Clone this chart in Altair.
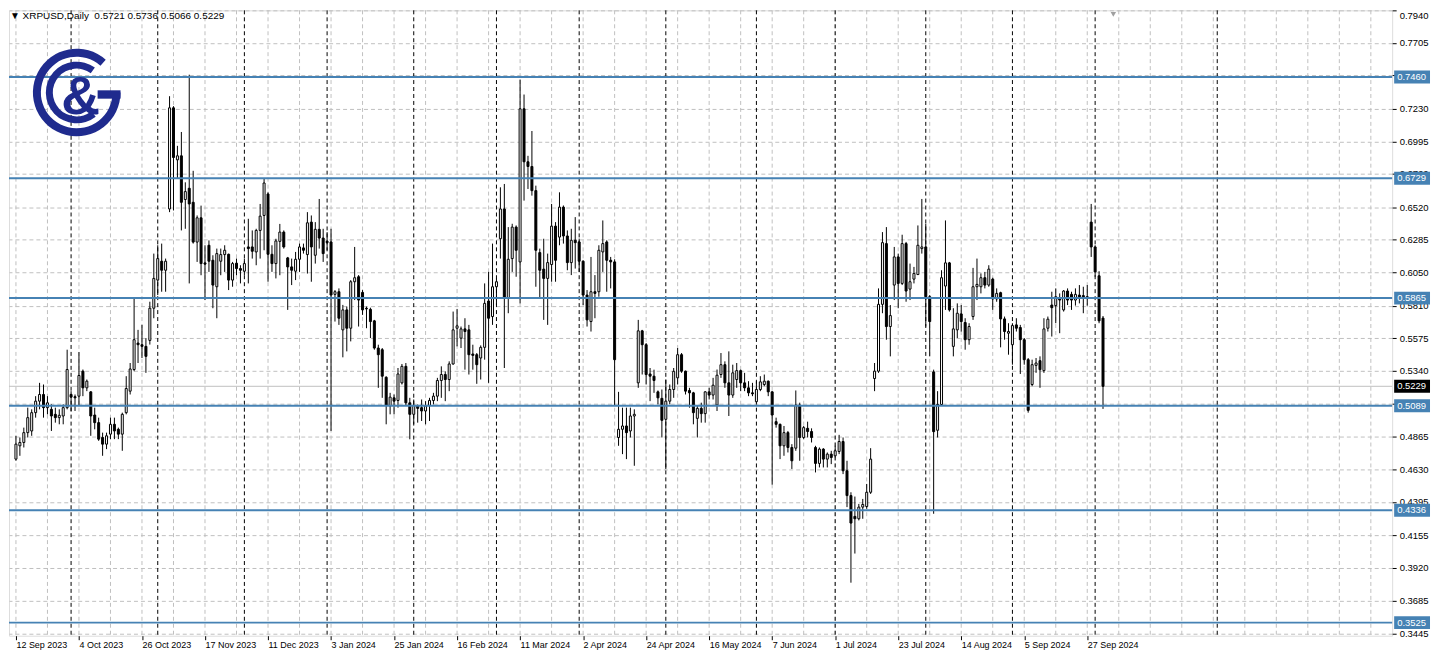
import altair as alt
import pandas as pd

# ---------------- data ----------------
opens = [
    0.4704, 0.4800, 0.4824, 0.4895, 0.4907, 0.5039, 0.5122, 0.5170, 0.5075, 0.5063,
    0.5027, 0.5003, 0.5015, 0.5075, 0.5170, 0.5154, 0.5158, 0.5338, 0.5218, 0.5189,
    0.5022, 0.4967, 0.4860, 0.4812, 0.4884, 0.4955, 0.4919, 0.4884, 0.5039, 0.5194,
    0.5350, 0.5541, 0.5529, 0.5517, 0.5560, 0.5792, 0.5995, 0.6131, 0.6066, 0.6508,
    0.7237, 0.6862, 0.6891, 0.6576, 0.6657, 0.6556, 0.6269, 0.6444, 0.6119, 0.6246,
    0.6138, 0.5947, 0.6131, 0.6179, 0.6181, 0.5995, 0.6117, 0.6078, 0.6059, 0.6234,
    0.6234, 0.6198, 0.6353, 0.6461, 0.6616, 0.6181, 0.6114, 0.6274, 0.6341, 0.6155,
    0.6090, 0.6059, 0.6145, 0.6227, 0.6179, 0.6413, 0.6174, 0.6361, 0.6298, 0.6275,
    0.6270, 0.5892, 0.5911, 0.5636, 0.5780, 0.5648, 0.5983, 0.6019, 0.5906, 0.5792,
    0.5784, 0.5701, 0.5505, 0.5493, 0.5294, 0.5087, 0.5146, 0.5127, 0.5254, 0.5373,
    0.5110, 0.5027, 0.5087, 0.5075, 0.5051, 0.5091, 0.5127, 0.5158, 0.5271, 0.5314,
    0.5278, 0.5390, 0.5648, 0.5576, 0.5643, 0.5636, 0.5462, 0.5457, 0.5433, 0.5510,
    0.5844, 0.5732, 0.5947, 0.6293, 0.6508, 0.5868, 0.6150, 0.6377, 0.6126, 0.7230,
    0.6848, 0.6814, 0.6640, 0.6193, 0.6074, 0.6007, 0.6107, 0.6384, 0.6305, 0.6521,
    0.6313, 0.6121, 0.6282, 0.6270, 0.6131, 0.5887, 0.5696, 0.5911, 0.5911, 0.6198,
    0.6270, 0.6138, 0.6126, 0.4860, 0.4919, 0.4943, 0.4907, 0.5015, 0.5254, 0.5629,
    0.5529, 0.5318, 0.5302, 0.5189, 0.5142, 0.4991, 0.5122, 0.5206, 0.5290, 0.5457,
    0.5338, 0.5199, 0.5182, 0.4998, 0.5070, 0.5032, 0.5189, 0.5166, 0.5094, 0.5314,
    0.5385, 0.5254, 0.5166, 0.5278, 0.5342, 0.5254, 0.5218, 0.5182, 0.5118, 0.5206,
    0.5242, 0.5266, 0.5189, 0.4974, 0.4955, 0.4800, 0.4895, 0.4788, 0.4783, 0.5094,
    0.4860, 0.4926, 0.4903, 0.4788, 0.4673, 0.4776, 0.4704, 0.4740, 0.4728, 0.4759,
    0.4831, 0.4620, 0.4441, 0.4291, 0.4274, 0.4358, 0.4362, 0.4465, 0.5285, 0.5338,
    0.5820, 0.6258, 0.5660, 0.5959, 0.6162, 0.5971, 0.6258, 0.5930, 0.6002, 0.6035,
    0.6222, 0.6234, 0.5875, 0.5333, 0.4912, 0.5098, 0.5952, 0.6119, 0.5517, 0.5636,
    0.5751, 0.5689, 0.5565, 0.5732, 0.5947, 0.5947, 0.6012, 0.5959, 0.6002, 0.5859,
    0.5904, 0.5715, 0.5612, 0.5529, 0.5672, 0.5653, 0.5565, 0.5421, 0.5242, 0.5380,
    0.5414, 0.5342, 0.5648, 0.5815, 0.5811, 0.5868, 0.5780, 0.5916, 0.5892, 0.5851,
    0.5887, 0.5883, 0.5875, 0.6413, 0.6234, 0.6026, 0.5721,
]
highs = [
    0.4872, 0.4860, 0.4931, 0.5075, 0.5063, 0.5158, 0.5254, 0.5242, 0.5158, 0.5099,
    0.5075, 0.5063, 0.5099, 0.5493, 0.5194, 0.5170, 0.5476, 0.5350, 0.5278, 0.5194,
    0.5075, 0.5003, 0.4895, 0.4895, 0.5003, 0.5003, 0.4931, 0.5039, 0.5302, 0.5397,
    0.5863, 0.5636, 0.5672, 0.5577, 0.5839, 0.6186, 0.6246, 0.6258, 0.6150, 0.7321,
    0.7249, 0.6963, 0.7063, 0.6700, 0.7476, 0.6783, 0.6461, 0.6532, 0.6246, 0.6281,
    0.6174, 0.6222, 0.6222, 0.6246, 0.6186, 0.6126, 0.6150, 0.6102, 0.6150, 0.6437,
    0.6353, 0.6365, 0.6544, 0.6728, 0.6628, 0.6246, 0.6293, 0.6400, 0.6353, 0.6162,
    0.6150, 0.6198, 0.6258, 0.6258, 0.6485, 0.6461, 0.6413, 0.6580, 0.6365, 0.6341,
    0.6365, 0.5923, 0.5935, 0.5816, 0.5804, 0.5995, 0.6234, 0.6031, 0.5923, 0.5804,
    0.5796, 0.5708, 0.5529, 0.5505, 0.5302, 0.5182, 0.5170, 0.5361, 0.5390, 0.5397,
    0.5146, 0.5134, 0.5098, 0.5134, 0.5122, 0.5146, 0.5182, 0.5290, 0.5373, 0.5337,
    0.5409, 0.5768, 0.5787, 0.5660, 0.5720, 0.5672, 0.5529, 0.5469, 0.5524, 0.5971,
    0.6054, 0.6258, 0.6007, 0.6664, 0.6688, 0.6377, 0.6401, 0.6389, 0.7441, 0.7333,
    0.6891, 0.7070, 0.6676, 0.6222, 0.6293, 0.6186, 0.6544, 0.6413, 0.6628, 0.6533,
    0.6353, 0.6365, 0.6449, 0.6294, 0.6138, 0.5923, 0.6162, 0.6031, 0.6246, 0.6425,
    0.6282, 0.6162, 0.6145, 0.5189, 0.5075, 0.5075, 0.5075, 0.5063, 0.5708, 0.5636,
    0.5541, 0.5361, 0.5349, 0.5199, 0.5206, 0.5278, 0.5242, 0.5361, 0.5505, 0.5469,
    0.5342, 0.5218, 0.5189, 0.5087, 0.5111, 0.5194, 0.5218, 0.5290, 0.5350, 0.5469,
    0.5409, 0.5481, 0.5385, 0.5397, 0.5350, 0.5326, 0.5266, 0.5254, 0.5266, 0.5302,
    0.5314, 0.5271, 0.5194, 0.5003, 0.4960, 0.4943, 0.4907, 0.4812, 0.5199, 0.5111,
    0.4943, 0.4974, 0.4926, 0.4800, 0.4788, 0.4783, 0.4752, 0.4764, 0.4800, 0.4879,
    0.4860, 0.4692, 0.4465, 0.4434, 0.4381, 0.4417, 0.4525, 0.4783, 0.5397, 0.5935,
    0.6341, 0.6377, 0.5815, 0.6234, 0.6186, 0.6322, 0.6270, 0.6114, 0.6090, 0.6389,
    0.6580, 0.6401, 0.5887, 0.5349, 0.5194, 0.6066, 0.6425, 0.6126, 0.5792, 0.5827,
    0.5815, 0.5720, 0.5684, 0.6083, 0.6150, 0.6043, 0.6054, 0.6102, 0.6012, 0.5935,
    0.5911, 0.5732, 0.5684, 0.5684, 0.5720, 0.5672, 0.5577, 0.5433, 0.5421, 0.5433,
    0.5445, 0.5720, 0.5732, 0.5911, 0.5935, 0.5899, 0.5923, 0.5935, 0.5911, 0.5935,
    0.5959, 0.5947, 0.5959, 0.6544, 0.6246, 0.6059, 0.5736,
]
lows = [
    0.4692, 0.4728, 0.4788, 0.4860, 0.4872, 0.5003, 0.5063, 0.5003, 0.5027, 0.4907,
    0.4967, 0.4955, 0.4955, 0.5063, 0.5051, 0.5051, 0.5087, 0.5158, 0.5194, 0.4872,
    0.4919, 0.4836, 0.4728, 0.4776, 0.4848, 0.4848, 0.4848, 0.4764, 0.5027, 0.5170,
    0.5338, 0.5397, 0.5433, 0.5326, 0.5530, 0.5720, 0.5887, 0.5911, 0.5911, 0.6485,
    0.6497, 0.6724, 0.6353, 0.6365, 0.5971, 0.6258, 0.6126, 0.6030, 0.5851, 0.6054,
    0.5792, 0.5720, 0.6030, 0.6054, 0.5923, 0.5947, 0.6030, 0.5971, 0.6030, 0.5971,
    0.6150, 0.6102, 0.6150, 0.6210, 0.5983, 0.6054, 0.6007, 0.6030, 0.6222, 0.5780,
    0.5959, 0.5995, 0.6054, 0.6186, 0.6042, 0.5983, 0.6114, 0.6222, 0.6126, 0.6210,
    0.4907, 0.5696, 0.5672, 0.5438, 0.5481, 0.5553, 0.5851, 0.5660, 0.5744, 0.5648,
    0.5577, 0.5493, 0.5218, 0.5146, 0.4955, 0.5027, 0.5027, 0.5075, 0.5242, 0.5087,
    0.4847, 0.4955, 0.4967, 0.4979, 0.4955, 0.4979, 0.5098, 0.5122, 0.5146, 0.5122,
    0.5194, 0.5385, 0.5517, 0.5505, 0.5349, 0.5314, 0.5349, 0.5247, 0.5278, 0.5421,
    0.5254, 0.5672, 0.5815, 0.6150, 0.5361, 0.5756, 0.6054, 0.6019, 0.5827, 0.6568,
    0.6652, 0.6604, 0.5947, 0.5863, 0.5708, 0.5672, 0.5983, 0.5983, 0.6246, 0.6258,
    0.6066, 0.6031, 0.6078, 0.6054, 0.5815, 0.5660, 0.5624, 0.5720, 0.5875, 0.6054,
    0.5911, 0.5935, 0.5087, 0.4800, 0.4740, 0.4704, 0.4860, 0.4656, 0.5218, 0.5314,
    0.5242, 0.5122, 0.5182, 0.5099, 0.4860, 0.4632, 0.5099, 0.5146, 0.5242, 0.5326,
    0.5170, 0.5075, 0.4955, 0.4860, 0.4967, 0.4967, 0.5134, 0.5134, 0.5051, 0.5290,
    0.5218, 0.5015, 0.5146, 0.5218, 0.5194, 0.5194, 0.5158, 0.5158, 0.5111, 0.5194,
    0.5230, 0.5158, 0.4520, 0.4931, 0.4704, 0.4728, 0.4752, 0.4633, 0.4764, 0.4692,
    0.4848, 0.4860, 0.4824, 0.4608, 0.4644, 0.4644, 0.4644, 0.4668, 0.4716, 0.4740,
    0.4596, 0.4358, 0.3813, 0.4023, 0.4262, 0.4274, 0.4346, 0.4453, 0.5194, 0.5326,
    0.5756, 0.5565, 0.5445, 0.5851, 0.5792, 0.5959, 0.5839, 0.5851, 0.5971, 0.6031,
    0.6186, 0.5660, 0.5445, 0.4310, 0.4860, 0.5087, 0.5780, 0.5768, 0.5445, 0.5577,
    0.5624, 0.5493, 0.5529, 0.5708, 0.5851, 0.5899, 0.5935, 0.5947, 0.5780, 0.5839,
    0.5510, 0.5565, 0.5457, 0.5385, 0.5624, 0.5318, 0.5385, 0.5039, 0.5230, 0.5326,
    0.5218, 0.5326, 0.5624, 0.5588, 0.5684, 0.5612, 0.5768, 0.5815, 0.5780, 0.5811,
    0.5827, 0.5756, 0.5811, 0.6162, 0.6019, 0.5684, 0.5066,
]
closes = [
    0.4812, 0.4824, 0.4895, 0.5003, 0.5039, 0.5122, 0.5170, 0.5075, 0.5110, 0.5015,
    0.5003, 0.5020, 0.5075, 0.5350, 0.5151, 0.5146, 0.5307, 0.5218, 0.5266, 0.5015,
    0.4967, 0.4848, 0.4812, 0.4872, 0.4955, 0.4907, 0.4884, 0.5027, 0.5213, 0.5354,
    0.5565, 0.5529, 0.5517, 0.5445, 0.5792, 0.6007, 0.6150, 0.6066, 0.6131, 0.7237,
    0.6879, 0.6891, 0.6556, 0.6633, 0.6544, 0.6269, 0.6444, 0.6114, 0.6110, 0.6131,
    0.5959, 0.6186, 0.6179, 0.6210, 0.5995, 0.6114, 0.6078, 0.6066, 0.6114, 0.6222,
    0.6203, 0.6353, 0.6456, 0.6695, 0.6181, 0.6114, 0.6277, 0.6341, 0.6234, 0.6090,
    0.6066, 0.6145, 0.6234, 0.6210, 0.6408, 0.6234, 0.6361, 0.6298, 0.6186, 0.6265,
    0.5887, 0.5911, 0.5720, 0.5780, 0.5648, 0.5983, 0.6012, 0.5851, 0.5780, 0.5787,
    0.5696, 0.5505, 0.5457, 0.5302, 0.5091, 0.5151, 0.5122, 0.5318, 0.5373, 0.5110,
    0.5027, 0.5091, 0.5070, 0.5051, 0.5087, 0.5127, 0.5158, 0.5271, 0.5314, 0.5278,
    0.5390, 0.5636, 0.5665, 0.5643, 0.5624, 0.5457, 0.5452, 0.5385, 0.5510, 0.5827,
    0.5720, 0.5947, 0.5983, 0.6508, 0.5868, 0.6145, 0.6377, 0.6210, 0.7230, 0.6848,
    0.6814, 0.6640, 0.6210, 0.6066, 0.6007, 0.6121, 0.6384, 0.6138, 0.6521, 0.6313,
    0.6121, 0.6282, 0.6265, 0.6131, 0.5887, 0.5708, 0.5911, 0.5899, 0.6210, 0.6258,
    0.6138, 0.6126, 0.5421, 0.4919, 0.4943, 0.4895, 0.5015, 0.5027, 0.5629, 0.5529,
    0.5314, 0.5302, 0.5271, 0.5146, 0.4984, 0.5122, 0.5206, 0.5337, 0.5457, 0.5338,
    0.5194, 0.5182, 0.5039, 0.5070, 0.5032, 0.5189, 0.5166, 0.5237, 0.5309, 0.5385,
    0.5254, 0.5166, 0.5326, 0.5342, 0.5254, 0.5218, 0.5182, 0.5175, 0.5206, 0.5261,
    0.5266, 0.5189, 0.5022, 0.4955, 0.4800, 0.4895, 0.4788, 0.4692, 0.5094, 0.4860,
    0.4931, 0.4903, 0.4860, 0.4673, 0.4776, 0.4704, 0.4740, 0.4716, 0.4764, 0.4831,
    0.4620, 0.4441, 0.4243, 0.4274, 0.4358, 0.4377, 0.4465, 0.4704, 0.5338, 0.5820,
    0.6265, 0.5660, 0.5739, 0.6162, 0.5971, 0.6258, 0.5916, 0.5983, 0.6043, 0.6246,
    0.6234, 0.5875, 0.5696, 0.4902, 0.5098, 0.6012, 0.6119, 0.5780, 0.5643, 0.5756,
    0.5696, 0.5565, 0.5660, 0.5947, 0.5964, 0.6012, 0.5959, 0.6074, 0.5859, 0.5899,
    0.5715, 0.5624, 0.5624, 0.5667, 0.5648, 0.5565, 0.5421, 0.5056, 0.5385, 0.5397,
    0.5349, 0.5643, 0.5713, 0.5796, 0.5875, 0.5851, 0.5916, 0.5851, 0.5851, 0.5892,
    0.5868, 0.5868, 0.5863, 0.6234, 0.6054, 0.5701, 0.5229,
]

date_labels = [
    "12 Sep 2023", "4 Oct 2023", "26 Oct 2023", "17 Nov 2023", "11 Dec 2023",
    "3 Jan 2024", "25 Jan 2024", "16 Feb 2024", "11 Mar 2024", "2 Apr 2024",
    "24 Apr 2024", "16 May 2024", "7 Jun 2024", "1 Jul 2024", "23 Jul 2024",
    "14 Aug 2024", "5 Sep 2024", "27 Sep 2024",
]
label_bars = [0, 16, 32, 48, 64, 80, 96, 112, 128, 144, 160, 176, 192, 208, 224, 240, 256, 272]
month_start_bars = [14, 36, 58, 79, 101, 122, 143, 165, 188, 208, 231, 253, 274, 305]
grid_bars = [0, 8, 16, 24, 32, 40, 48, 56, 64, 72, 80, 88, 96, 104, 112, 120, 128, 136,
             144, 152, 160, 168, 176, 184, 192, 200, 208, 216, 224, 232, 240, 248, 256,
             264, 272, 280, 288, 296, 304, 312, 320, 328, 336, 344]
price_ticks = [0.7940, 0.7705, 0.7470, 0.7230, 0.6995, 0.6760, 0.6520, 0.6285, 0.6050,
               0.5810, 0.5575, 0.5340, 0.5105, 0.4865, 0.4630, 0.4395, 0.4155, 0.3920,
               0.3685, 0.3445]
levels = [0.7460, 0.6729, 0.5865, 0.5089, 0.4336, 0.3525]
last_price = [0.5229]
header = "\u25BC XRPUSD,Daily\u00A0\u00A00.5721 0.5736 0.5066 0.5229"

# ---------------- layout / style ----------------
W, H = 1389, 628
Y_MIN, Y_MAX = 0.34306, 0.7940
X_MIN, X_MAX = -0.5, 348.15
BOX_HALF = 6.5 * (Y_MAX - Y_MIN) / H
FONT = "Liberation Sans"
BLUE = "#4682b4"
NAVY = "#1f2b8e"
GRID = "#c0c0c0"

candles = pd.DataFrame({"i": list(range(len(opens))), "open": opens, "high": highs,
                        "low": lows, "close": closes})
lv = pd.DataFrame({"v": levels, "lab": [f"{v:.4f}" for v in levels]})
lp = pd.DataFrame({"v": last_price, "lab": [f"{v:.4f}" for v in last_price]})
one = pd.DataFrame({"a": [0]})

xs = alt.Scale(domain=[X_MIN, X_MAX], nice=False, zero=False)
ys = alt.Scale(domain=[Y_MIN, Y_MAX], nice=False, zero=False)

label_expr = "[" + ",".join(f"'{d}'" for d in date_labels) + "][round(datum.value / 16)]"
x_axis = alt.Axis(values=label_bars, labelExpr=label_expr, grid=False, domain=False,
                  ticks=True, tickSize=4, tickColor="black", labelAlign="left",
                  labelFont=FONT, labelFontSize=9, labelColor="black", labelPadding=1,
                  labelFlush=False, labelOverlap=False, title=None)
y_axis = alt.Axis(orient="right", values=price_ticks, format=".4f", grid=True,
                  gridColor=GRID, gridDash=[4, 3], gridWidth=1, domain=False, ticks=True,
                  tickSize=4, tickColor="black", labelFont=FONT, labelFontSize=9.5,
                  labelColor="black", labelPadding=3, labelFlush=True,
                  labelOverlap=False, title=None)

X = lambda f: alt.X(f, type="quantitative", scale=xs, axis=x_axis)
Y = lambda f: alt.Y(f, type="quantitative", scale=ys, axis=y_axis)
Y2 = lambda f: alt.Y2(f)

vgrid = alt.Chart(pd.DataFrame({"i": grid_bars})).mark_rule(
    color=GRID, strokeDash=[4, 3], strokeWidth=1).encode(x=X("i"))
seps = alt.Chart(pd.DataFrame({"i": month_start_bars})).mark_rule(
    color="black", strokeDash=[4, 3], strokeWidth=1).encode(x=X("i"))
lastline = alt.Chart(lp).mark_rule(color="#c0c0c0", strokeWidth=1).encode(y=Y("v"))

wicks = alt.Chart(candles).mark_rule(color="black", strokeWidth=1).encode(
    x=X("i"), y=Y("low"), y2=Y2("high"))
bodies = alt.Chart(candles).mark_bar(size=2, stroke="black", strokeWidth=1).encode(
    x=X("i"), y=Y("open"), y2=Y2("close"),
    fill=alt.condition("datum.close >= datum.open", alt.value("white"), alt.value("black")))

lvl_lines = alt.Chart(lv).mark_rule(color=BLUE, strokeWidth=2).encode(y=Y("v"))
lvl_boxes = alt.Chart(lv).transform_calculate(
    lo=f"datum.v - {BOX_HALF}", hi=f"datum.v + {BOX_HALF}").mark_rect(color=BLUE).encode(
    x=alt.value(W + 2), x2=alt.value(W + 38), y=Y("lo"), y2=Y2("hi"))
lvl_text = alt.Chart(lv).mark_text(align="left", baseline="middle", color="white",
                                   font=FONT, fontSize=9.5).encode(
    x=alt.value(W + 5), y=Y("v"), text="lab:N")
lp_box = alt.Chart(lp).transform_calculate(
    lo=f"datum.v - {BOX_HALF}", hi=f"datum.v + {BOX_HALF}").mark_rect(color="black").encode(
    x=alt.value(W + 2), x2=alt.value(W + 38), y=Y("lo"), y2=Y2("hi"))
lp_text = alt.Chart(lp).mark_text(align="left", baseline="middle", color="white",
                                  font=FONT, fontSize=9.5).encode(
    x=alt.value(W + 5), y=Y("v"), text="lab:N")

head = alt.Chart(one).mark_text(align="left", baseline="middle", font=FONT, fontSize=10,
                                color="black", text=header).encode(
    x=alt.value(1), y=alt.value(5.5))
shift_marker = alt.Chart(one).mark_point(shape="triangle-down", filled=True,
                                         color="#a0a0a0", size=30, opacity=1).encode(
    x=alt.value(1109), y=alt.value(4))

# logo (G & C)
logo_outer = alt.Chart(one).mark_arc(color=NAVY, theta=1.5708, theta2=7.007,
                                     radius=44, radius2=36).encode(
    x=alt.value(68), y=alt.value(82.5))
logo_inner = alt.Chart(one).mark_arc(color=NAVY, theta=2.478, theta2=6.912,
                                     radius=31, radius2=24).encode(
    x=alt.value(68), y=alt.value(82.5))
logo_bar = alt.Chart(one).mark_rect(color=NAVY).encode(
    x=alt.value(89), x2=alt.value(112), y=alt.value(80.3), y2=alt.value(88.7))
logo_amp = alt.Chart(one).mark_text(text="&", font=FONT, fontSize=54, fontWeight="bold",
                                    color=NAVY, align="center",
                                    baseline="alphabetic").encode(
    x=alt.value(72), y=alt.value(104))

chart = alt.layer(
    vgrid, seps, lastline, wicks, bodies, lvl_lines, lvl_boxes, lvl_text, lp_box, lp_text,
    head, shift_marker, logo_outer, logo_inner, logo_bar, logo_amp,
).properties(
    width=W, height=H,
    padding={"left": 0, "top": 0, "right": 2, "bottom": 2},
).configure_view(
    stroke="black", strokeWidth=1
).configure(background="white")

chart.save("out.html", embed_options={"renderer": "svg", "actions": False})
